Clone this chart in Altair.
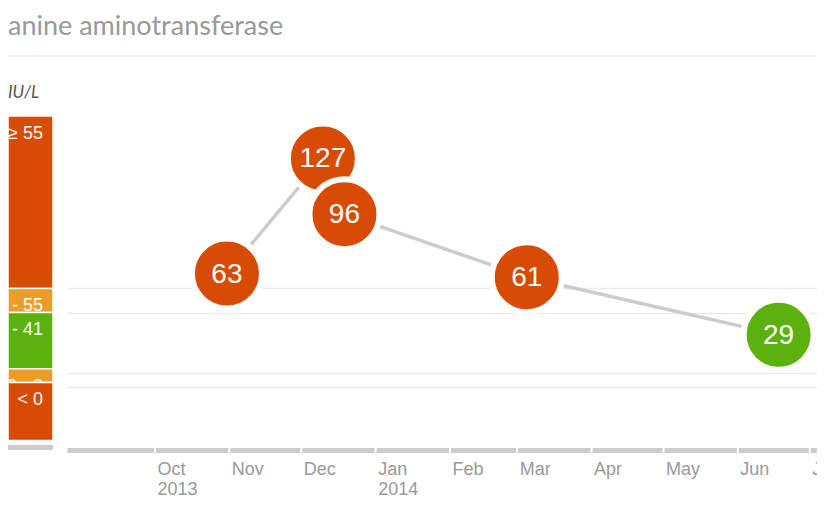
import altair as alt
import pandas as pd

# ---- data ----
dates = ["2013-10-31", "2013-12-10", "2013-12-19", "2014-03-05", "2014-06-18"]
values = [63, 127, 96, 61, 29]

band_labels = ["≥ 55", "41 - 55", "8 - 41", "0 - 8", "< 0"]
band_lo = [55, 41, 8, 0, -34]
band_hi = [156, 55, 41, 8, 0]

thresholds = [0, 8, 41, 55]
palette = ["#D84B05", "#E99E29", "#5CB10E", "#E99E29", "#D84B05"]

month_ticks = ["2013-10-01", "2013-11-01", "2013-12-01", "2014-01-01", "2014-02-01",
               "2014-03-01", "2014-04-01", "2014-05-01", "2014-06-01", "2014-07-01"]

title_text = "anine aminotransferase"
unit_text = "IU/L"

W, H = 750, 333
PAD_L, PAD_T = 59, 109

pts = pd.DataFrame({"date": dates, "value": values})
bands = pd.DataFrame({"label": band_labels, "lo": band_lo, "hi": band_hi})
months = pd.DataFrame({"m": month_ticks})
tick_ms = [int(pd.Timestamp(s, tz="UTC").value // 10**6) for s in month_ticks]

color_scale = alt.Scale(type="threshold", domain=thresholds, range=palette)
xscale = alt.Scale(type="utc", domain=[
    alt.DateTime(year=2013, month=8, date=25, hours=8, utc=True),
    alt.DateTime(year=2014, month=7, date=4, hours=0, utc=True)])
yscale = alt.Scale(domain=[-35, 150], nice=False, zero=False)
bscale = alt.Scale(domain=[-39.5, 155.35], nice=False, zero=False)

xaxis = alt.Axis(
    values=tick_ms, title=None, grid=False, ticks=False, tickSize=0,
    domainColor="#cccccc", domainWidth=5,
    labelExpr="(datum.index == 0 || utcmonth(datum.value) == 0) ? "
              "[utcFormat(datum.value, '%b'), utcFormat(datum.value, '%Y')] : "
              "utcFormat(datum.value, '%b')",
    labelAlign="left", labelBaseline="alphabetic", labelOffset=2, labelPadding=24,
    labelFont="Liberation Sans", labelFontSize=18, labelColor="#999999",
    labelLineHeight=20, labelOverlap=False, labelFlush=False, labelBound=False)
yaxis = alt.Axis(values=thresholds, title=None, labels=False, ticks=False, domain=False,
                 grid=True, gridColor="#ebebeb", gridWidth=1.5)

X = alt.X("date:T", scale=xscale, axis=xaxis)
Y = alt.Y("value:Q", scale=yscale, axis=yaxis)

# ---- decorations ----
title = alt.Chart(pd.DataFrame({"t": [title_text]})).mark_text(
    font="Lato", fontSize=27, color="#999999", align="left", baseline="alphabetic"
).encode(text="t:N", x=alt.value(-PAD_L), y=alt.value(34.5 - 8 - PAD_T))

unit = alt.Chart(pd.DataFrame({"t": [unit_text]})).mark_text(
    font="Lato", fontSize=17, fontStyle="italic", color="#555555", align="left",
    baseline="alphabetic"
).encode(text="t:N", x=alt.value(-PAD_L), y=alt.value(97.7 - 8 - PAD_T))

sep = alt.Chart(pd.DataFrame({"t": [0]})).mark_rule(color="#eeeeee", strokeWidth=1.5).encode(
    x=alt.value(-PAD_L), x2=alt.value(W), y=alt.value(56 - 8 - PAD_T))

band_bar = alt.Chart(pd.DataFrame({"t": [0]})).mark_rect(color="#cccccc").encode(
    x=alt.value(-PAD_L), x2=alt.value(53 - 8 - PAD_L),
    y=alt.value(445 - 8 - PAD_T), y2=alt.value(450 - 8 - PAD_T))

# ---- range band on the left ----
band_parts = []
for lab in band_labels:
    base = alt.Chart(bands).transform_filter(alt.datum.label == lab)
    band_parts.append(base.mark_rect(stroke="white", strokeWidth=1.5).encode(
        x=alt.value(-PAD_L), x2=alt.value(53 - 8 - PAD_L),
        y=alt.Y("hi:Q", scale=bscale, axis=None), y2="lo:Q",
        color=alt.Color("lo:Q", scale=color_scale, legend=None)))
    band_parts.append(base.mark_text(
        font="Liberation Sans", fontSize=18, color="white", align="right",
        baseline="alphabetic", dy=23).encode(
        x=alt.value(43 - 8 - PAD_L),
        y=alt.Y("hi:Q", scale=bscale, axis=None), text="label:N"))
band_layer = alt.layer(*band_parts)

# ---- main series ----
line = alt.Chart(pts).mark_line(color="#cccccc", strokeWidth=3.5).encode(x=X, y=Y)
dots = alt.Chart(pts).mark_circle(opacity=1, stroke="white", strokeWidth=6, size=4900).encode(
    x=X, y=Y, color=alt.Color("value:Q", scale=color_scale, legend=None))
labels = alt.Chart(pts).mark_text(font="Liberation Sans", fontSize=28, color="white",
                                  align="center", baseline="middle", dy=1).encode(
    x=X, y=Y, text="value:Q")
gaps = alt.Chart(months).mark_rule(color="white", strokeWidth=2).encode(
    x=alt.X("m:T", scale=xscale, axis=xaxis), y=alt.value(H - 4), y2=alt.value(H + 4))

main = alt.layer(line, dots, labels, gaps)

chart = alt.layer(sep, title, unit, band_bar, band_layer, main).resolve_scale(
    y="independent"
).properties(
    width=W, height=H,
    autosize=alt.AutoSizeParams(type="none"),
    padding={"left": PAD_L, "top": PAD_T, "right": 0, "bottom": 50},
).configure_view(stroke=None)

chart.save("out.html", embed_options={"renderer": "svg", "actions": False})
